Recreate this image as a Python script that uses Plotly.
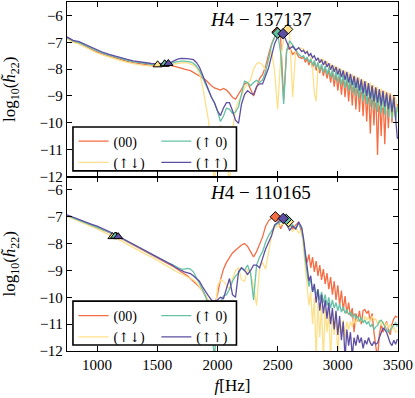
import plotly.graph_objects as go
from plotly.subplots import make_subplots

# sample frequencies (Hz): coarse on the smooth inspiral, finer where it rings
freq = (list(range(750, 1601, 50)) + list(range(1625, 2701, 25))
        + list(range(2715, 3496, 15)))

ARW = "<span style='font-family:DejaVu Serif;font-size:13px'>{}</span>"
labels = ["(00)", "(" + ARW.format("↑↓") + ")", "(" + ARW.format("↑") + " 0)",
          "(" + ARW.format("↑↑") + ")"]
colors = ["#f46d43", "#fee08b", "#66c2a5", "#5e4fa2"]

# ---- H4-137137 (top panel), log10 |h22| ----
top_00 = [-6.85, -6.98, -7.04, -7.15, -7.27, -7.37, -7.45, -7.52, -7.59, -7.65, -7.71, -7.76, -7.80, -7.84, -7.86, -7.87, -7.86, -7.85,
          -7.88, -7.90, -7.93, -7.96, -8.00, -8.02, -8.06, -8.12, -8.18, -8.25, -8.32,
          -8.40, -8.52, -8.62, -8.70, -8.75, -8.78, -8.72, -8.78, -8.90, -9.05, -9.12,
          -8.95, -8.75, -8.55, -8.50, -8.75, -9.00, -8.70, -8.35, -8.20, -7.90, -7.45,
          -7.05, -6.80, -6.66, -6.85, -9.15, -7.30, -7.20, -7.45, -7.35, -7.55, -7.60,
          -7.55, -7.75, -7.60, -7.85, -7.65, -7.95, -7.72, -8.05, -7.80, -8.15,
          -7.88, -8.25, -7.95, -8.35, -8.02, -8.50, -8.08, -8.65, -8.15, -8.80,
          -8.20, -8.95, -8.25, -9.05, -8.30, -9.20, -8.35, -9.35, -8.40, -9.50,
          -8.45, -9.60, -8.50, -9.75, -8.55, -9.95, -8.60, -10.40, -8.65, -10.10,
          -8.70, -11.20, -8.75, -10.50, -8.80, -10.80, -8.85, -10.20, -8.90, -10.00,
          -9.00, -9.80, -9.30]
top_ud = [-6.88, -7.00, -7.07, -7.18, -7.30, -7.40, -7.48, -7.56, -7.63, -7.69, -7.75, -7.80, -7.84, -7.87, -7.89, -7.90, -7.88, -7.86,
          -7.84, -7.80, -7.78, -7.76, -7.76, -7.77, -7.80, -7.85, -7.95, -8.15, -8.60,
          -9.20, -9.90, -11.00, -12.30, -10.60, -10.10, -10.30, -11.20, -12.30, -10.30, -9.50,
          -9.20, -9.00, -8.70, -8.55, -8.40, -8.00, -7.80, -7.75, -7.85, -8.05, -7.70,
          -7.30, -8.10, -9.50, -7.60, -6.90, -6.55, -6.70, -9.05, -7.30, -7.20, -7.25,
          -7.25, -7.40, -7.30, -7.50, -7.45, -8.00, -8.90, -9.20, -7.90, -7.60,
          -7.75, -7.62, -7.85, -7.70, -7.95, -7.78, -8.05, -7.85, -8.15, -7.92,
          -8.25, -8.00, -8.35, -8.05, -8.45, -8.12, -8.55, -8.18, -8.65, -8.25,
          -8.75, -8.30, -8.85, -8.38, -8.95, -8.45, -9.05, -8.50, -9.15, -8.58,
          -9.25, -8.65, -9.35, -8.72, -9.45, -8.80, -9.55, -8.88, -9.65, -8.95,
          -9.75, -9.05, -9.60]
top_u0 = [-6.82, -6.95, -7.01, -7.11, -7.23, -7.33, -7.41, -7.48, -7.55, -7.61, -7.67, -7.72, -7.76, -7.80, -7.82, -7.83, -7.82, -7.80,
          -7.78, -7.74, -7.71, -7.70, -7.70, -7.71, -7.73, -7.78, -7.88, -8.05, -8.30,
          -8.60, -8.85, -9.05, -9.25, -9.55, -9.95, -9.75, -9.45, -9.50, -9.65, -9.60,
          -9.40, -8.90, -8.45, -8.50, -8.62, -8.50, -8.42, -8.50, -8.40, -8.10, -7.60,
          -7.10, -6.80, -6.66, -7.40, -9.30, -7.30, -6.95, -7.10, -7.30, -7.45, -7.55,
          -7.50, -7.65, -7.55, -7.75, -7.62, -7.85, -7.68, -7.95, -7.75, -8.05,
          -7.82, -8.12, -7.88, -8.20, -7.95, -8.30, -8.02, -8.40, -8.08, -8.50,
          -8.14, -8.60, -8.20, -8.70, -8.26, -8.80, -8.32, -8.90, -8.38, -9.00,
          -8.44, -9.10, -8.50, -9.20, -8.56, -9.30, -8.62, -9.40, -8.68, -9.50,
          -8.74, -9.60, -8.80, -9.65, -8.86, -9.70, -8.92, -9.80, -8.98, -9.85,
          -9.05, -9.90, -9.40]
top_uu = [-6.80, -6.93, -6.98, -7.08, -7.20, -7.30, -7.38, -7.45, -7.52, -7.58, -7.64, -7.69, -7.73, -7.77, -7.79, -7.80, -7.80, -7.78,
          -7.72, -7.66, -7.62, -7.60, -7.60, -7.61, -7.63, -7.65, -7.75, -7.92, -8.20,
          -8.50, -8.80, -9.05, -9.25, -9.55, -9.73, -9.45, -9.25, -9.25, -9.55, -9.90,
          -10.02, -9.30, -8.95, -8.80, -8.90, -8.95, -8.65, -8.55, -8.55, -8.25, -7.95,
          -7.50, -7.05, -6.80, -6.68, -6.72, -7.00, -7.25, -7.15, -7.30, -7.20, -7.35,
          -7.30, -7.42, -7.35, -7.50, -7.42, -7.58, -7.50, -7.68, -7.58, -7.76,
          -7.64, -7.85, -7.70, -7.92, -7.78, -8.02, -7.85, -8.10, -7.92, -8.20,
          -7.98, -8.30, -8.05, -8.40, -8.10, -8.50, -8.18, -8.60, -8.25, -8.70,
          -8.32, -8.80, -8.38, -8.90, -8.45, -9.00, -8.52, -9.10, -8.60, -9.20,
          -8.68, -9.25, -8.75, -9.35, -8.82, -9.40, -8.90, -9.50, -8.98, -9.60,
          -9.05, -9.80, -10.60]

# ---- H4-110165 (bottom panel) ----
bot_00 = [-6.96, -7.05, -7.13, -7.21, -7.30, -7.38, -7.47, -7.58, -7.69, -7.81, -7.93, -8.05, -8.17, -8.28, -8.39, -8.51, -8.63, -8.75,
          -8.83, -8.90, -8.98, -9.05, -9.12, -9.20, -9.30, -9.40, -9.52, -9.62, -9.75,
          -9.95, -10.15, -10.35, -10.30, -9.90, -9.35, -8.95, -8.70, -8.50, -8.35, -8.25,
          -8.15, -8.05, -8.00, -8.10, -8.30, -8.50, -8.30, -8.00, -7.75, -7.35, -7.15,
          -7.05, -6.98, -7.10, -7.45, -7.20, -7.20, -7.25, -7.45, -7.30, -7.20, -7.60,
          -7.95, -8.45, -8.70, -8.40, -8.90, -8.50, -9.05, -8.65, -9.20, -8.80,
          -9.35, -8.95, -9.50, -9.10, -9.70, -9.25, -9.90, -9.40, -10.10, -9.55,
          -10.30, -9.75, -10.50, -9.95, -10.60, -10.20, -10.70, -10.40, -11.30, -10.60,
          -10.90, -10.50, -11.00, -10.50, -10.45, -10.60, -10.50, -10.90, -10.60, -11.30,
          -11.90, -12.30, -11.40, -11.00, -11.30, -11.10, -10.90, -11.20, -11.40, -11.00,
          -10.80, -10.70, -10.75]
bot_ud = [-6.98, -7.08, -7.17, -7.26, -7.36, -7.45, -7.55, -7.66, -7.78, -7.90, -8.03, -8.15, -8.28, -8.39, -8.50, -8.62, -8.74, -8.86,
          -8.95, -9.02, -9.08, -9.15, -9.20, -9.25, -9.30, -9.35, -9.45, -9.60, -9.75,
          -9.90, -10.10, -10.50, -11.20, -9.60, -9.35, -9.40, -9.55, -9.70, -9.30, -9.00,
          -8.90, -9.35, -9.40, -8.95, -9.10, -9.60, -10.30, -8.90, -8.70, -8.95, -8.30,
          -7.70, -7.40, -7.35, -7.30, -7.28, -7.22, -7.40, -7.55, -7.40, -7.60, -7.50,
          -8.20, -9.00, -9.60, -10.30, -9.80, -11.00, -10.00, -12.30, -10.20, -11.50,
          -10.30, -12.30, -10.40, -11.30, -10.50, -12.30, -10.60, -11.40, -10.70, -12.20,
          -10.80, -11.30, -10.85, -11.50, -10.90, -11.20, -10.90, -11.10, -10.80, -11.00,
          -10.75, -10.90, -10.80, -10.95, -10.70, -10.85, -10.75, -10.90, -10.70, -10.85,
          -10.80, -11.00, -10.85, -11.05, -10.90, -11.10, -10.95, -11.15, -11.00, -11.20,
          -11.10, -11.30, -11.25]
bot_u0 = [-6.95, -7.04, -7.12, -7.20, -7.29, -7.37, -7.46, -7.57, -7.68, -7.80, -7.92, -8.04, -8.16, -8.27, -8.38, -8.50, -8.62, -8.74,
          -8.78, -8.85, -8.90, -8.95, -8.95, -8.92, -8.95, -9.05, -9.25, -9.45, -9.70,
          -9.95, -10.30, -11.00, -12.30, -10.50, -10.20, -9.95, -9.90, -9.70, -9.40, -9.20,
          -9.10, -8.90, -9.00, -8.80, -9.10, -10.10, -8.80, -8.50, -8.30, -7.95, -7.70,
          -7.50, -7.35, -7.25, -7.20, -7.15, -7.10, -7.35, -7.30, -7.45, -7.25, -7.45,
          -7.90, -8.60, -9.20, -9.60, -9.30, -9.80, -9.60, -9.90, -9.70, -10.10,
          -9.80, -10.20, -9.90, -10.30, -10.00, -10.40, -10.10, -10.40, -10.20, -10.50,
          -10.25, -10.55, -10.35, -10.60, -10.45, -10.65, -10.55, -10.75, -10.60, -10.80,
          -10.70, -10.90, -10.75, -10.95, -10.85, -11.00, -10.90, -11.10, -11.00, -11.20,
          -11.10, -11.05, -10.90, -10.85, -10.95, -11.10, -11.20, -11.30, -11.20, -11.10,
          -11.00, -10.95, -11.10]
bot_uu = [-6.93, -7.02, -7.10, -7.18, -7.27, -7.35, -7.44, -7.55, -7.66, -7.78, -7.90, -8.02, -8.14, -8.25, -8.36, -8.48, -8.60, -8.72,
          -8.80, -8.88, -8.95, -9.00, -9.05, -9.08, -9.12, -9.20, -9.30, -9.40, -9.60,
          -9.80, -9.95, -10.10, -10.15, -10.10, -10.00, -10.05, -9.70, -9.30, -9.90, -10.00,
          -9.05, -8.90, -9.00, -9.15, -9.00, -8.80, -8.80, -8.90, -8.55, -8.20, -7.95,
          -7.70, -7.30, -7.20, -7.12, -7.08, -7.30, -7.50, -7.35, -7.45, -7.20, -7.40,
          -7.80, -8.40, -9.00, -9.40, -9.20, -9.80, -9.50, -10.20, -9.70, -10.50,
          -9.90, -10.60, -10.10, -10.80, -10.20, -11.00, -10.40, -11.20, -10.50, -11.40,
          -10.70, -11.60, -10.90, -12.30, -11.20, -11.80, -11.30, -12.20, -11.50, -11.80,
          -11.40, -11.70, -11.50, -11.90, -11.60, -11.75, -11.50, -11.70, -11.80, -11.65,
          -11.75, -11.70, -11.50, -11.30, -11.15, -11.20, -11.30, -11.50, -11.70, -11.80,
          -11.60, -11.75, -11.55]

# contact (triangles) and amplitude peak (diamonds), same order as labels
top_tri_f = [1560, 1503, 1562, 1592]
top_tri_v = [-7.82, -7.84, -7.80, -7.79]
top_dia_f = [2495, 2583, 2500, 2545]
top_dia_v = [-6.62, -6.52, -6.66, -6.68]
bot_tri_f = [1160, 1128, 1150, 1175]
bot_tri_v = [-7.73, -7.74, -7.72, -7.74]
bot_dia_f = [2481, 2590, 2572, 2547]
bot_dia_v = [-7.00, -7.18, -7.10, -7.06]

panels = [
    (1, "<i>H</i>4 − 137137", [top_00, top_ud, top_u0, top_uu],
     top_tri_f, top_tri_v, top_dia_f, top_dia_v, ["legend", "legend2"]),
    (2, "<i>H</i>4 − 110165", [bot_00, bot_ud, bot_u0, bot_uu],
     bot_tri_f, bot_tri_v, bot_dia_f, bot_dia_v, ["legend3", "legend4"]),
]

for p in panels:
    for s in p[2]:
        assert len(s) == len(freq), (p[1], len(s), len(freq))

fig = make_subplots(rows=2, cols=1, shared_xaxes=True, vertical_spacing=0)

for row, name, series, tri_f, tri_v, dia_f, dia_v, legs in panels:
    for i, s in enumerate(series):
        fig.add_trace(go.Scatter(
            x=freq, y=s, mode="lines", name=labels[i],
            line=dict(color=colors[i], width=1.3),
            legend=legs[0] if i < 2 else legs[1],
        ), row=row, col=1)
    for i in range(4):
        fig.add_trace(go.Scatter(
            x=[tri_f[i], dia_f[i]], y=[tri_v[i], dia_v[i]], mode="markers",
            marker=dict(symbol=["triangle-up", "diamond"], size=8,
                        color=colors[i], line=dict(color="black", width=1)),
            showlegend=False,
        ), row=row, col=1)

fig.update_xaxes(range=[750, 3500], tickvals=[1000, 1500, 2000, 2500, 3000, 3500],
                 ticks="inside", ticklen=5, tickwidth=1.2, tickcolor="black",
                 showline=True, linecolor="black", linewidth=1.3, mirror="ticks",
                 showgrid=False, zeroline=False)
fig.update_xaxes(showticklabels=False, row=1, col=1)
fig.update_xaxes(title=dict(text="<i>f</i>[Hz]", font=dict(size=17), standoff=6), row=2, col=1)
fig.update_yaxes(range=[-12, -5.5], tickvals=[-6, -7, -8, -9, -10, -11, -12],
                 ticks="inside", ticklen=5, tickwidth=1.2, tickcolor="black",
                 showline=True, linecolor="black", linewidth=1.3, mirror="ticks",
                 showgrid=False, zeroline=False,
                 title=dict(text="log<sub>10</sub>(<i>h̃</i><sub>22</sub>)",
                            font=dict(size=17), standoff=20))

leg_style = dict(bgcolor="rgba(0,0,0,0)", borderwidth=0, font=dict(size=14),
                 xanchor="left", yanchor="top", orientation="v", itemwidth=30)
fig.update_layout(
    width=415, height=398,
    margin=dict(l=67, r=17, t=2, b=47),
    paper_bgcolor="white", plot_bgcolor="white",
    font=dict(family="Liberation Serif", size=15, color="black"),
    legend=dict(x=0.02, y=0.646, **leg_style),
    legend2=dict(x=0.27, y=0.646, **leg_style),
    legend3=dict(x=0.02, y=0.146, **leg_style),
    legend4=dict(x=0.27, y=0.146, **leg_style),
)

# legend frames
for y0, y1 in [(0.516, 0.642), (0.017, 0.143)]:
    fig.add_shape(type="rect", xref="paper", yref="paper", x0=0.018, x1=0.512,
                  y0=y0, y1=y1, line=dict(color="black", width=1.6),
                  fillcolor="white", layer="above")

fig.add_annotation(text=panels[0][1], xref="paper", yref="paper", x=0.742, y=0.951,
                   yanchor="middle", showarrow=False, font=dict(size=19))
fig.add_annotation(text=panels[1][1], xref="paper", yref="paper", x=0.742, y=0.453,
                   yanchor="middle", showarrow=False, font=dict(size=19))

fig.write_html("out.html", config={"displayModeBar": False},
               post_script="document.body.style.margin='0';")
